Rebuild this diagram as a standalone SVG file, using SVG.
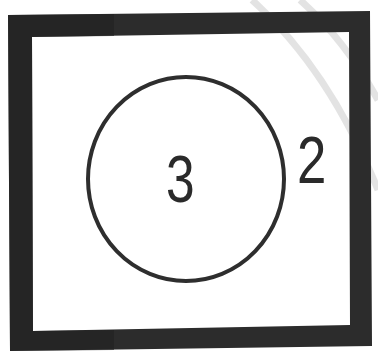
<svg xmlns="http://www.w3.org/2000/svg" width="378" height="354" viewBox="0 0 378 354">
<style>
.wm{fill:none;stroke:#dcdcdc;stroke-width:7;opacity:0.8}
.lbl{font-family:"Liberation Sans","DejaVu Sans",sans-serif;font-size:66px;fill:#2a2a2a}
</style>
<rect width="378" height="354" fill="#ffffff"/>
<g id="watermark">
<path class="wm" d="M252,0 Q330,70 378,190"/>
<path class="wm" d="M300,0 Q345,40 378,100"/>
</g>
<g id="frame">
<path fill="#2c2c2c" fill-rule="evenodd" d="M8,15 L370,11 L372,346 L10,351 Z M32,37 L349,32 L350,325 L33,331 Z"/>
<path fill="#222" d="M8,15 L114,14 L114,36 L32,37 L33,331 L114,330 L114,350 L10,351 Z" opacity="0.6"/>
</g>
<g id="circle">
<ellipse cx="186" cy="179" rx="98" ry="102" fill="none" stroke="#2e2e2e" stroke-width="4"/>
<text class="lbl" transform="translate(166,202) scale(0.78,1)" x="0" y="0">3</text>
</g>
<g id="label2">
<text class="lbl" transform="translate(297,183) scale(0.8,1)" x="0" y="0">2</text>
</g>
</svg>
